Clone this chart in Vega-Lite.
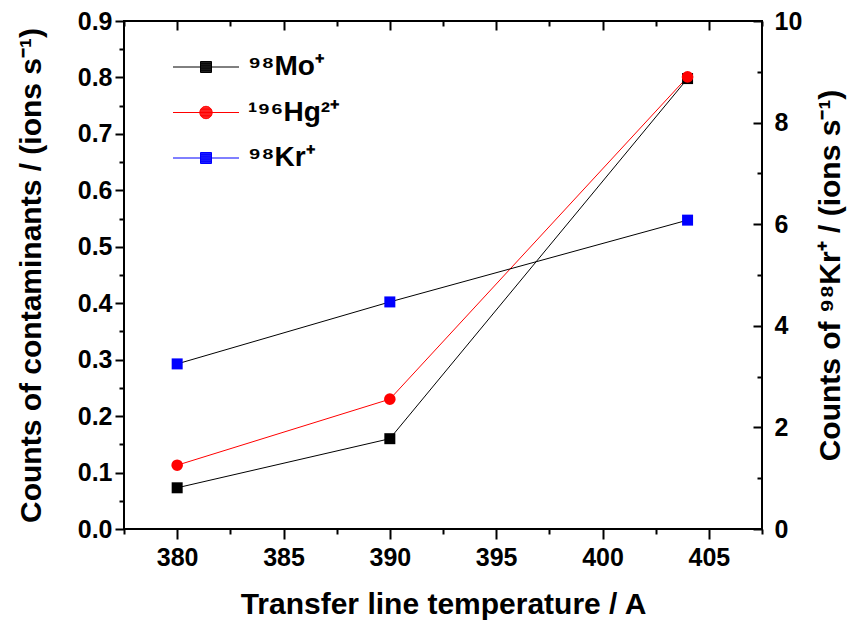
{
  "$schema": "https://vega.github.io/schema/vega-lite/v6.json",
  "width": 638,
  "height": 508,
  "autosize": {"type": "none"},
  "padding": {"left": 124, "top": 21, "right": 85, "bottom": 91},
  "background": "white",
  "config": {
    "font": "Liberation Sans",
    "view": {"stroke": "black", "strokeWidth": 2},
    "axis": {
      "domain": false,
      "grid": false,
      "tickColor": "black",
      "tickWidth": 2,
      "labelColor": "black",
      "labelFont": "Liberation Sans",
      "labelFontWeight": "bold",
      "labelFontSize": 25,
      "titleColor": "black",
      "titleFont": "Liberation Sans",
      "titleFontWeight": "bold",
      "titleFontSize": 30
    },
    "legend": {
      "labelFont": "Liberation Sans",
      "labelFontWeight": "bold",
      "labelFontSize": 28,
      "labelColor": "black"
    }
  },
  "datasets": {
    "counts": [
      {"temp": 380, "series": "⁹⁸Mo⁺", "value": 0.073},
      {"temp": 390, "series": "⁹⁸Mo⁺", "value": 0.160},
      {"temp": 404, "series": "⁹⁸Mo⁺", "value": 0.798},
      {"temp": 380, "series": "¹⁹⁶Hg²⁺", "value": 0.113},
      {"temp": 390, "series": "¹⁹⁶Hg²⁺", "value": 0.230},
      {"temp": 404, "series": "¹⁹⁶Hg²⁺", "value": 0.801},
      {"temp": 380, "series": "⁹⁸Kr⁺", "value": 3.25},
      {"temp": 390, "series": "⁹⁸Kr⁺", "value": 4.47},
      {"temp": 404, "series": "⁹⁸Kr⁺", "value": 6.08}
    ]
  },
  "data": {"name": "counts"},
  "layer": [
    {
      "transform": [{"filter": "datum.series === '⁹⁸Mo⁺'"}],
      "mark": {"type": "line", "strokeWidth": 1, "color": "#000000"},
      "encoding": {
        "x": {
          "field": "temp", "type": "quantitative",
          "scale": {"domain": [377.5, 407.5], "nice": false, "zero": false},
          "axis": {
            "orient": "bottom",
            "values": [380, 385, 390, 395, 400, 405],
            "tickSize": 10,
            "labelPadding": 6,
            "title": "Transfer line temperature / A",
            "titlePadding": 19
          }
        },
        "y": {
          "field": "value", "type": "quantitative",
          "scale": {"domain": [0, 0.9], "nice": false, "zero": true},
          "axis": {
            "orient": "left",
            "values": [0, 0.1, 0.2, 0.3, 0.4, 0.5, 0.6, 0.7, 0.8, 0.9],
            "format": ".1f",
            "tickSize": 9,
            "labelPadding": 3,
            "title": "Counts of contaminants / (ions s⁻¹)",
            "titlePadding": 31
          }
        }
      }
    },
    {
      "transform": [{"filter": "datum.series === '¹⁹⁶Hg²⁺'"}],
      "mark": {"type": "line", "strokeWidth": 1, "color": "#ff0000"},
      "encoding": {
        "x": {
          "field": "temp", "type": "quantitative",
          "scale": {"domain": [377.5, 407.5], "nice": false, "zero": false},
          "axis": null
        },
        "y": {
          "field": "value", "type": "quantitative",
          "scale": {"domain": [0, 0.9], "nice": false, "zero": true},
          "axis": null
        }
      }
    },
    {
      "transform": [{"filter": "datum.series === '⁹⁸Kr⁺'"}],
      "mark": {"type": "line", "strokeWidth": 1, "color": "#000000"},
      "encoding": {
        "x": {
          "field": "temp", "type": "quantitative",
          "scale": {"domain": [377.5, 407.5], "nice": false, "zero": false},
          "axis": null
        },
        "y": {
          "field": "value", "type": "quantitative",
          "scale": {"domain": [0, 10], "nice": false, "zero": true},
          "axis": {
            "orient": "right",
            "values": [0, 2, 4, 6, 8, 10],
            "ticks": false,
            "labelPadding": 12,
            "title": "Counts of ⁹⁸Kr⁺ / (ions s⁻¹)",
            "titleAngle": 270,
            "titleBaseline": "top",
            "titlePadding": 14
          }
        }
      }
    },
    {
      "transform": [{"filter": "datum.series === '⁹⁸Mo⁺'"}],
      "mark": {"type": "point", "filled": true, "opacity": 1, "size": 121, "shape": "square", "fill": "#000000"},
      "encoding": {
        "x": {
          "field": "temp", "type": "quantitative",
          "scale": {"domain": [377.5, 407.5], "nice": false, "zero": false},
          "axis": null
        },
        "y": {
          "field": "value", "type": "quantitative",
          "scale": {"domain": [0, 0.9], "nice": false, "zero": true},
          "axis": null
        }
      }
    },
    {
      "transform": [{"filter": "datum.series === '¹⁹⁶Hg²⁺'"}],
      "mark": {"type": "point", "filled": true, "opacity": 1, "size": 135, "shape": "circle", "fill": "#ff0000"},
      "encoding": {
        "x": {
          "field": "temp", "type": "quantitative",
          "scale": {"domain": [377.5, 407.5], "nice": false, "zero": false},
          "axis": null
        },
        "y": {
          "field": "value", "type": "quantitative",
          "scale": {"domain": [0, 0.9], "nice": false, "zero": true},
          "axis": null
        }
      }
    },
    {
      "transform": [{"filter": "datum.series === '⁹⁸Kr⁺'"}],
      "mark": {"type": "point", "filled": true, "opacity": 1, "size": 121, "shape": "square", "fill": "#0000ff"},
      "encoding": {
        "x": {
          "field": "temp", "type": "quantitative",
          "scale": {"domain": [377.5, 407.5], "nice": false, "zero": false},
          "axis": null
        },
        "y": {
          "field": "value", "type": "quantitative",
          "scale": {"domain": [0, 10], "nice": false, "zero": true},
          "axis": null
        }
      }
    },
    {
      "transform": [{"filter": "datum.series !== '⁹⁸Kr⁺'"}],
      "mark": {"type": "point", "filled": true, "opacity": 0},
      "encoding": {
        "x": {
          "field": "temp", "type": "quantitative",
          "scale": {"domain": [377.5, 407.5], "nice": false, "zero": false},
          "axis": null
        },
        "y": {
          "field": "value", "type": "quantitative",
          "scale": {"domain": [0, 0.9], "nice": false, "zero": true},
          "axis": null
        },
        "fill": {
          "field": "series", "type": "nominal",
          "scale": {"domain": ["⁹⁸Mo⁺", "¹⁹⁶Hg²⁺", "⁹⁸Kr⁺"], "range": ["#000000", "#ff0000", "#0000ff"]},
          "legend": {
            "title": null,
            "orient": "none",
            "legendX": 59.5,
            "legendY": 23.5,
            "padding": 0,
            "rowPadding": 8.5,
            "symbolSize": 1936,
            "symbolOpacity": 1,
            "symbolStrokeWidth": 1,
            "labelOffset": 19.5
          }
        },
        "stroke": {
          "field": "series", "type": "nominal",
          "scale": {"domain": ["⁹⁸Mo⁺", "¹⁹⁶Hg²⁺", "⁹⁸Kr⁺"], "range": ["#000000", "#ff0000", "#0000ff"]}
        },
        "shape": {
          "field": "series", "type": "nominal",
          "scale": {
            "domain": ["⁹⁸Mo⁺", "¹⁹⁶Hg²⁺", "⁹⁸Kr⁺"],
            "range": [
              "M-1.5,0H1.5M-0.25,-0.25H0.25V0.25H-0.25ZM-0.25,-0.219H0.25M-0.25,-0.188H0.25M-0.25,-0.156H0.25M-0.25,-0.125H0.25M-0.25,-0.094H0.25M-0.25,-0.063H0.25M-0.25,-0.031H0.25M-0.25,0.031H0.25M-0.25,0.063H0.25M-0.25,0.094H0.25M-0.25,0.125H0.25M-0.25,0.156H0.25M-0.25,0.188H0.25M-0.25,0.219H0.25",
              "M-1.5,0H1.5M0.28,0A0.28,0.28,0,1,1,-0.28,0A0.28,0.28,0,1,1,0.28,0ZM-0.136,-0.245H0.136M-0.185,-0.21H0.185M-0.219,-0.175H0.219M-0.243,-0.14H0.243M-0.26,-0.105H0.26M-0.271,-0.07H0.271M-0.278,-0.035H0.278M-0.278,0.035H0.278M-0.271,0.07H0.271M-0.26,0.105H0.26M-0.243,0.14H0.243M-0.219,0.175H0.219M-0.185,0.21H0.185M-0.136,0.245H0.136",
              "M-1.5,0H1.5M-0.25,-0.25H0.25V0.25H-0.25ZM-0.25,-0.219H0.25M-0.25,-0.188H0.25M-0.25,-0.156H0.25M-0.25,-0.125H0.25M-0.25,-0.094H0.25M-0.25,-0.063H0.25M-0.25,-0.031H0.25M-0.25,0.031H0.25M-0.25,0.063H0.25M-0.25,0.094H0.25M-0.25,0.125H0.25M-0.25,0.156H0.25M-0.25,0.188H0.25M-0.25,0.219H0.25"
            ]
          }
        }
      }
    },
    {
      "mark": {"type": "point", "opacity": 0},
      "encoding": {
        "x": {
          "field": "temp", "type": "quantitative",
          "scale": {"domain": [377.5, 407.5], "nice": false, "zero": false},
          "axis": {"orient": "top", "values": [380, 385, 390, 395, 400, 405], "tickSize": -9, "labels": false, "title": null}
        },
        "y": {
          "field": "value", "type": "quantitative",
          "scale": {"domain": [0, 0.9], "nice": false, "zero": true},
          "axis": {"orient": "left", "values": [0.05, 0.15, 0.25, 0.35, 0.45, 0.55, 0.65, 0.75, 0.85], "tickSize": 5, "labels": false, "title": null}
        }
      }
    },
    {
      "mark": {"type": "point", "opacity": 0},
      "encoding": {
        "x": {
          "field": "temp", "type": "quantitative",
          "scale": {"domain": [377.5, 407.5], "nice": false, "zero": false},
          "axis": {"orient": "top", "values": [377.5, 382.5, 387.5, 392.5, 397.5, 402.5, 407.5], "tickSize": -5, "labels": false, "title": null}
        },
        "y": {
          "field": "value", "type": "quantitative",
          "scale": {"domain": [0, 10], "nice": false, "zero": true},
          "axis": {"orient": "right", "values": [0, 2, 4, 6, 8, 10], "tickSize": -9, "labels": false, "title": null}
        }
      }
    },
    {
      "mark": {"type": "point", "opacity": 0},
      "encoding": {
        "x": {
          "field": "temp", "type": "quantitative",
          "scale": {"domain": [377.5, 407.5], "nice": false, "zero": false},
          "axis": {"orient": "bottom", "values": [377.5, 382.5, 387.5, 392.5, 397.5, 402.5, 407.5], "tickSize": 5, "labels": false, "title": null}
        },
        "y": {
          "field": "value", "type": "quantitative",
          "scale": {"domain": [0, 10], "nice": false, "zero": true},
          "axis": {"orient": "right", "values": [1, 3, 5, 7, 9], "tickSize": -5, "labels": false, "title": null}
        }
      }
    }
  ],
  "resolve": {
    "scale": {"y": "independent"},
    "axis": {"x": "independent", "y": "independent"}
  }
}
